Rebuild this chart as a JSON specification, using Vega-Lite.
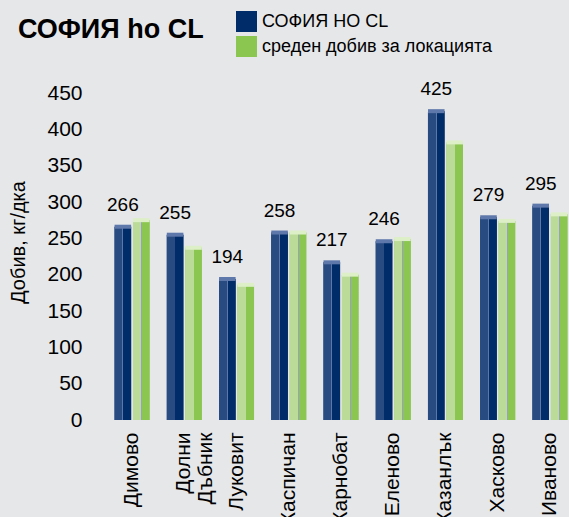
{
  "$schema": "https://vega.github.io/schema/vega-lite/v6.json",
  "autosize": {"type": "none"},
  "padding": {"left": 113, "top": 93, "right": 0, "bottom": 97},
  "width": 456,
  "height": 327,
  "background": "#e6e7e9",
  "config": {
    "view": {"stroke": null},
    "font": "Liberation Sans"
  },
  "title": {
    "text": "СОФИЯ ho CL",
    "anchor": "start",
    "frame": "group",
    "orient": "top",
    "dx": -95,
    "offset": -54,
    "baseline": "alphabetic",
    "font": "Liberation Sans",
    "fontSize": 27,
    "fontWeight": "bold",
    "color": "#000000"
  },
  "data": {
    "values": [
      {"loc": "Димово", "series": "СОФИЯ НО CL", "value": 266},
      {"loc": "Димово", "series": "среден добив за локацията", "value": 275},
      {"loc": "Долни Дъбник", "series": "СОФИЯ НО CL", "value": 255},
      {"loc": "Долни Дъбник", "series": "среден добив за локацията", "value": 237},
      {"loc": "Луковит", "series": "СОФИЯ НО CL", "value": 194},
      {"loc": "Луковит", "series": "среден добив за локацията", "value": 186},
      {"loc": "Каспичан", "series": "СОФИЯ НО CL", "value": 258},
      {"loc": "Каспичан", "series": "среден добив за локацията", "value": 258},
      {"loc": "Карнобат", "series": "СОФИЯ НО CL", "value": 217},
      {"loc": "Карнобат", "series": "среден добив за локацията", "value": 200},
      {"loc": "Еленово", "series": "СОФИЯ НО CL", "value": 246},
      {"loc": "Еленово", "series": "среден добив за локацията", "value": 249},
      {"loc": "Казанлък", "series": "СОФИЯ НО CL", "value": 425},
      {"loc": "Казанлък", "series": "среден добив за локацията", "value": 382},
      {"loc": "Хасково", "series": "СОФИЯ НО CL", "value": 279},
      {"loc": "Хасково", "series": "среден добив за локацията", "value": 274},
      {"loc": "Иваново", "series": "СОФИЯ НО CL", "value": 295},
      {"loc": "Иваново", "series": "среден добив за локацията", "value": 283}
    ]
  },
  "encoding": {
    "x": {
      "field": "loc",
      "type": "nominal",
      "sort": null,
      "scale": {"paddingInner": 0.33, "paddingOuter": 0.03},
      "axis": {
        "title": null,
        "labelAngle": -90,
        "labelFontSize": 21,
        "labelColor": "#000000",
        "labelPadding": 12,
        "labelLineHeight": 22,
        "labelLimit": 0,
        "labelExpr": "datum.value == 'Долни Дъбник' ? ['Долни', 'Дъбник'] : datum.value",
        "ticks": false,
        "domain": false,
        "grid": false
      }
    },
    "xOffset": {
      "field": "series",
      "type": "nominal",
      "scale": {"domain": ["СОФИЯ НО CL", "среден добив за локацията"], "paddingInner": 0.1}
    },
    "y": {
      "field": "value",
      "type": "quantitative",
      "scale": {"domain": [0, 450]},
      "axis": {
        "title": "Добив, кг/дка",
        "titleFontSize": 20,
        "titleFontWeight": "normal",
        "titleColor": "#000000",
        "titleX": -95,
        "titleY": 149,
        "titleAngle": -90,
        "titleBaseline": "middle",
        "titleAlign": "center",
        "values": [0, 50, 100, 150, 200, 250, 300, 350, 400, 450],
        "labelFontSize": 21,
        "labelColor": "#000000",
        "labelPadding": 31,
        "ticks": false,
        "domain": false,
        "grid": false
      }
    }
  },
  "layer": [
    {
      "mark": {"type": "bar"},
      "encoding": {
        "color": {
          "field": "series",
          "type": "nominal",
          "scale": {"domain": ["СОФИЯ НО CL", "среден добив за локацията"], "range": ["#002d69", "#8bc750"]},
          "legend": {
            "title": null,
            "orient": "none",
            "legendX": 123,
            "legendY": -82,
            "symbolType": "square",
            "symbolSize": 440,
            "symbolStrokeWidth": 0,
            "symbolOpacity": 1,
            "labelFontSize": 18,
            "labelColor": "#000000",
            "labelOffset": 5,
            "labelLimit": 0,
            "rowPadding": 4
          }
        }
      }
    },
    {
      "transform": [{"filter": "datum.series == 'СОФИЯ НО CL'"}],
      "mark": {
        "type": "bar",
        "color": {
          "gradient": "linear", "x1": 0, "x2": 1, "y1": 0, "y2": 0,
          "stops": [
            {"offset": 0, "color": "#284b82"},
            {"offset": 0.47, "color": "#284b82"},
            {"offset": 0.47, "color": "#5d78a8"},
            {"offset": 0.52, "color": "#5d78a8"},
            {"offset": 0.52, "color": "#002d69"},
            {"offset": 1, "color": "#002d69"}
          ]
        }
      }
    },
    {
      "transform": [{"filter": "datum.series == 'среден добив за локацията'"}],
      "mark": {
        "type": "bar",
        "color": {
          "gradient": "linear", "x1": 0, "x2": 1, "y1": 0, "y2": 0,
          "stops": [
            {"offset": 0, "color": "#badc98"},
            {"offset": 0.5, "color": "#badc98"},
            {"offset": 0.5, "color": "#9a9fc4"},
            {"offset": 0.54, "color": "#9a9fc4"},
            {"offset": 0.54, "color": "#8bc750"},
            {"offset": 1, "color": "#8bc750"}
          ]
        }
      }
    },
    {
      "transform": [{"filter": "datum.series == 'СОФИЯ НО CL'"}],
      "mark": {"type": "bar", "color": "#5f78ab", "yOffset": -2, "y2Offset": 2},
      "encoding": {"y2": {"field": "value"}}
    },
    {
      "transform": [{"filter": "datum.series == 'среден добив за локацията'"}],
      "mark": {"type": "bar", "color": "#dcefc6", "yOffset": -2, "y2Offset": 2},
      "encoding": {"y2": {"field": "value"}}
    },
    {
      "transform": [{"filter": "datum.series == 'СОФИЯ НО CL'"}],
      "mark": {"type": "text", "baseline": "alphabetic", "dy": -16, "fontSize": 19, "color": "#000000"},
      "encoding": {"text": {"field": "value", "type": "quantitative"}}
    }
  ]
}
